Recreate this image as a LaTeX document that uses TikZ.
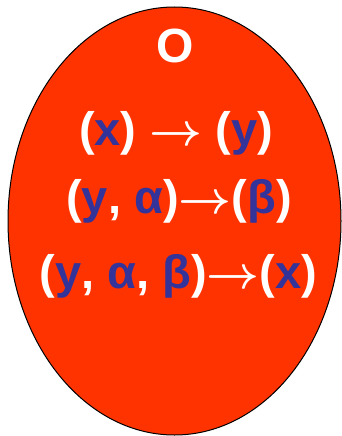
\documentclass[tikz,border=0pt]{standalone}
\usepackage{fontspec}
\usepackage{graphicx}
\setmainfont{Liberation Sans}
\definecolor{ovalred}{HTML}{FF3300}
\definecolor{varblue}{HTML}{333399}
\newcommand{\vb}[1]{\textcolor{varblue}{#1}}
\newcommand{\arr}{\scalebox{4.6}{\fontsize{10}{12}\selectfont\boldmath$\rightarrow$}}
\begin{document}
\begin{tikzpicture}[x=1pt,y=-1pt,
  line/.style={anchor=base,text=white,font=\fontsize{47}{47}\selectfont\bfseries,inner sep=0pt},
  title/.style={anchor=base,text=white,font=\fontsize{48}{48}\selectfont\bfseries,inner sep=0pt}]
\useasboundingbox (0,0) rectangle (341,436);
\draw[fill=ovalred,draw=black,line width=1pt] (174.5,221) ellipse [x radius=166.5,y radius=214];
\node[title] (o) at (175,63) {O};
\node[line] (l1) at (176,145) {(\vb{x}) \arr{} (\vb{y})};
\node[line] (l2) at (179,213) {(\vb{y}, \vb{α})\arr(\vb{β})};
\node[line] (l3) at (178.5,288) {(\vb{y}, \vb{α}, \vb{β})\arr(\vb{x})};
\end{tikzpicture}
\end{document}
